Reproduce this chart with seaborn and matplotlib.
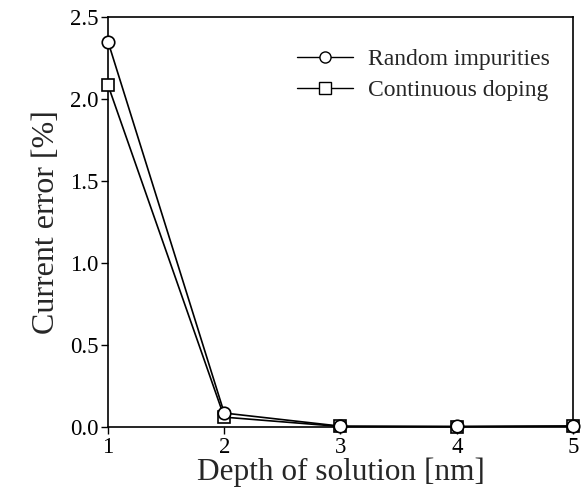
import matplotlib
matplotlib.use("Agg")
import matplotlib.pyplot as plt
import seaborn as sns
import pandas as pd
from matplotlib.lines import Line2D

depth = [1, 2, 3, 4, 5]
random_impurities = [2.35, 0.085, 0.005, 0.003, 0.006]
continuous_doping = [2.085, 0.06, 0.003, 0.002, 0.005]
x_ticks = [1, 2, 3, 4, 5]
y_ticks = [0.0, 0.5, 1.0, 1.5, 2.0, 2.5]

sns.set_theme(style="ticks")
plt.rcParams['font.family'] = ['Liberation Serif', 'DejaVu Serif']

df = pd.DataFrame({
    "depth": depth * 2,
    "err": continuous_doping + random_impurities,
    "series": ["Continuous doping"] * 5 + ["Random impurities"] * 5,
})

fig = plt.figure(figsize=(5.85, 4.95), dpi=100)
ax = fig.add_axes([0.1846, 0.1374, 0.7949, 0.8283])

sns.lineplot(data=df, x="depth", y="err", hue="series", style="series",
             hue_order=["Continuous doping", "Random impurities"],
             style_order=["Continuous doping", "Random impurities"],
             markers={"Random impurities": "o", "Continuous doping": "s"},
             dashes=False, palette={"Random impurities": "black", "Continuous doping": "black"},
             markerfacecolor="white", markeredgecolor="black", markeredgewidth=1.2,
             markersize=9, linewidth=1.2, ax=ax, legend=False, zorder=3, clip_on=False)

handles = [Line2D([], [], color="black", lw=1.0, marker="o", markersize=8,
                  markerfacecolor="white", markeredgecolor="black"),
           Line2D([], [], color="black", lw=1.0, marker="s", markersize=8,
                  markerfacecolor="white", markeredgecolor="black")]
ax.legend(handles, ["Random impurities", "Continuous doping"], frameon=False,
          loc="upper right", fontsize=17, handlelength=2.4, handletextpad=0.6,
          bbox_to_anchor=(0.995, 0.975), labelspacing=0.4)

ax.set_xlim(1, 5)
ax.set_ylim(0, 2.5)
ax.set_xticks(x_ticks)
ax.set_yticks(y_ticks)
ax.set_yticklabels([f"{v:.1f}" for v in y_ticks])
ax.tick_params(direction="out", length=5, width=1, labelsize=16.5, colors="black", pad=2)
for s in ax.spines.values():
    s.set_linewidth(1.2)
    s.set_color("black")
ax.set_xlabel("Depth of solution [nm]", fontsize=22.5, labelpad=0)
ax.set_ylabel("Current error [%]", fontsize=23, labelpad=6)

fig.savefig("out.png", dpi=100)
